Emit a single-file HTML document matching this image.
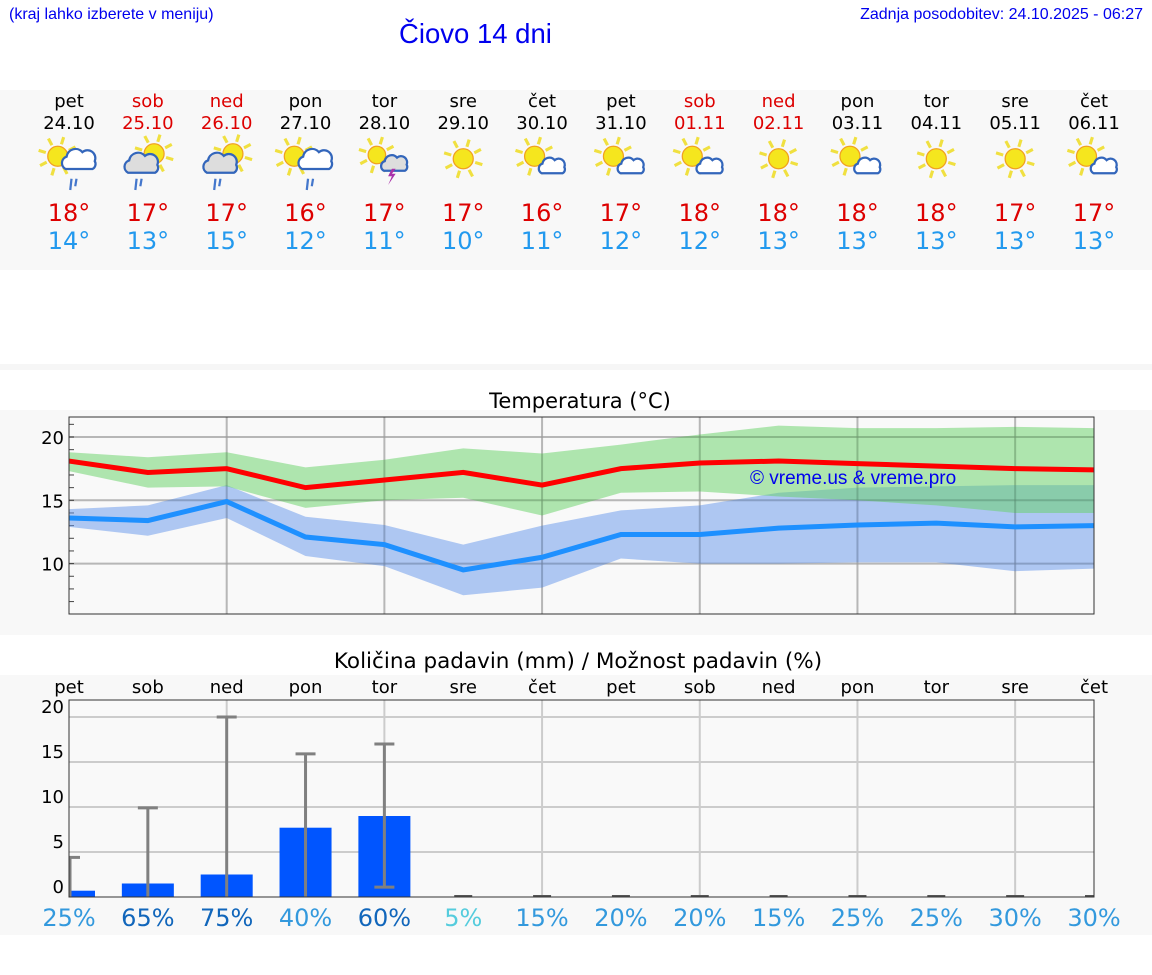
<!DOCTYPE html>
<html><head><meta charset="utf-8">
<style>
body{margin:0;width:1152px;height:975px;background:#fff;position:relative;overflow:hidden;font-family:"DejaVu Sans","Liberation Sans",sans-serif}
.abs{position:absolute}
</style></head>
<body>
<div class="abs" style="left:9px;top:6px;font:16px 'Liberation Sans',sans-serif;color:#0000ee">(kraj lahko izberete v meniju)</div>
<div class="abs" style="left:399px;top:18px;font:27.5px 'Liberation Sans',sans-serif;color:#0000ee">Čiovo 14 dni</div>
<div class="abs" style="right:9px;top:6px;font:16px 'Liberation Sans',sans-serif;color:#0000ee">Zadnja posodobitev: 24.10.2025 - 06:27</div>
<div class="abs" style="left:0;top:90px;width:1152px;height:180px;background:#f8f8f8"></div>
<div class="abs" style="left:0;top:364px;width:1152px;height:6px;background:#f6f6f6"></div>
<div class="abs" style="left:0;top:410px;width:1152px;height:225px;background:#f8f8f8"></div>
<div class="abs" style="left:0;top:675px;width:1152px;height:260px;background:#f8f8f8"></div>
<svg class="abs" style="left:0;top:0" width="1152" height="975" id="svg"></svg>
<script>
const days=["pet","sob","ned","pon","tor","sre","čet","pet","sob","ned","pon","tor","sre","čet"];
const dates=["24.10","25.10","26.10","27.10","28.10","29.10","30.10","31.10","01.11","02.11","03.11","04.11","05.11","06.11"];
const weekend=[0,1,1,0,0,0,0,0,1,1,0,0,0,0];
const icons=["sunrain","cloudrain","cloudrain","sunrain","storm","sun","suncloud","suncloud","suncloud","sun","suncloud","sun","sun","suncloud"];
const tmax=[18,17,17,16,17,17,16,17,18,18,18,18,17,17];
const tmin=[14,13,15,12,11,10,11,12,12,13,13,13,13,13];
const maxLine=[18.1,17.2,17.5,16.0,16.6,17.2,16.2,17.5,17.95,18.1,17.9,17.7,17.5,17.4];
const maxHi=[18.8,18.4,18.8,17.6,18.2,19.1,18.7,19.4,20.2,20.9,20.7,20.7,20.8,20.7];
const maxLo=[17.3,16.0,16.1,14.4,15.0,15.2,13.8,15.6,15.7,15.3,15.0,14.6,14.0,14.0];
const minLine=[13.6,13.4,14.9,12.1,11.5,9.5,10.5,12.3,12.3,12.8,13.05,13.2,12.9,13.0];
const minHi=[14.3,14.6,16.2,13.7,13.05,11.5,13.0,14.2,14.6,15.6,16.0,16.1,16.2,16.2];
const minLo=[12.9,12.2,13.6,10.6,9.8,7.5,8.1,10.4,10.0,10.0,10.1,10.1,9.4,9.6];
const precip=[0.7,1.5,2.5,7.7,9.0,0,0,0,0,0,0,0,0,0];
const precipHi=[4.4,9.9,20,15.9,17,0,0,0,0,0,0,0,0,0];
const precipLo=[0,0,0,0,1.1,0,0,0,0,0,0,0,0,0];
const chance=[25,65,75,40,60,5,15,20,20,15,25,25,30,30];
const tTicks=[10,15,20];
const pTicks=[0,5,10,15,20];

const svg=document.getElementById('svg');
const NS='http://www.w3.org/2000/svg';
function mk(tag,attrs,parent){const e=document.createElementNS(NS,tag);for(const k in attrs)e.setAttribute(k,attrs[k]);(parent||svg).appendChild(e);return e;}
const X0=69,X1=1094,step=(X1-X0)/13;
const xd=i=>X0+i*step;
const yt=v=>437+(20-v)*12.66;
const yp=v=>897-v*9;

for(let i=0;i<14;i++){
  const c=weekend[i]?'#dd0000':'#000';
  let t=mk('text',{x:xd(i),y:107,'text-anchor':'middle','font-size':18,fill:c});t.textContent=days[i];
  
  
  t=mk('text',{x:xd(i),y:129,'text-anchor':'middle','font-size':18,fill:c});t.textContent=dates[i];
  
  
  t=mk('text',{x:xd(i),y:221,'text-anchor':'middle','font-size':24,fill:'#dd0000'});t.textContent=tmax[i]+'°';
  
  
  t=mk('text',{x:xd(i),y:249,'text-anchor':'middle','font-size':24,fill:'#2299ee'});t.textContent=tmin[i]+'°';
  
  
  const g=mk('g',{transform:`translate(${xd(i)},160) scale(1.25)`});
  
  
  drawIcon(g,icons[i]);
}
function sun(g,cx,cy,r){
  for(let a=0;a<8;a++){const an=a*Math.PI/4+0.3;mk('line',{x1:cx+Math.cos(an)*(r+2),y1:cy+Math.sin(an)*(r+2),x2:cx+Math.cos(an)*(r+8),y2:cy+Math.sin(an)*(r+8),stroke:'#f0e040','stroke-width':2.5},g);}
  mk('circle',{cx,cy,r,fill:'#f5e61e',stroke:'#f0a020','stroke-width':1},g);
}
function cloud(g,cx,cy,s,fill){
  mk('path',{d:`M${cx-12*s},${cy+8*s} a${6*s},${6*s} 0 0 1 ${1*s},${-11*s} a${8*s},${8*s} 0 0 1 ${14*s},${-4*s} a${7*s},${7*s} 0 0 1 ${11*s},${8*s} a${5*s},${5*s} 0 0 1 ${-2*s},${7*s} z`,fill,stroke:'#3366bb','stroke-width':1.8},g);
}
function drawIcon(g,k){
  if(k=='sun'){sun(g,0,-1,8);return;}
  if(k=='sunrain'){sun(g,-9,-3,8);cloud(g,8,0,0.9,'#fff');rain(g,2);return;}
  if(k=='cloudrain'){sun(g,5,-5,8);cloud(g,-5,3,0.9,'#ddd');rain(g,-9);return;}
  if(k=='suncloud'){sun(g,-6,-3,8);cloud(g,8,5,0.7,'#fff');return;}
  if(k=='storm'){sun(g,-6,-4,7);cloud(g,8,3,0.7,'#ddd');mk('path',{d:'M6,7 l-3,6 h3 l-3,7 l6,-9 h-3 l3,-4 z',fill:'#aa33aa'},g);}
}
function rain(g,x){mk('line',{x1:x,y1:15,x2:x-1,y2:24,stroke:'#4477cc','stroke-width':1.8},g);mk('line',{x1:x+4,y1:15,x2:x+3,y2:21,stroke:'#4477cc','stroke-width':1.8},g);}

let t=mk('text',{x:580,y:408,'text-anchor':'middle','font-size':21,fill:'#000'});t.textContent='Temperatura (°C)';


mk('rect',{x:X0,y:417,width:X1-X0,height:197,fill:'#f9f9f9'});
for(const v of tTicks){mk('line',{x1:X0,x2:X1,y1:yt(v),y2:yt(v),stroke:'#ccc','stroke-width':2});
  t=mk('text',{x:64,y:yt(v)+7,'text-anchor':'end','font-size':18});t.textContent=v;
  
  }
for(let v=7;v<=21;v++){mk('line',{x1:X0,x2:X0+5,y1:yt(v),y2:yt(v),stroke:'#444'});}
for(let i=2;i<14;i+=2)mk('line',{x1:xd(i),x2:xd(i),y1:417,y2:614,stroke:'#ccc','stroke-width':2});
function band(hi,lo,fill,name){let d='';hi.forEach((v,i)=>d+=(i?'L':'M')+xd(i)+','+yt(v));for(let i=lo.length-1;i>=0;i--)d+='L'+xd(i)+','+yt(lo[i]);
  const p=mk('path',{d:d+'Z',fill});
  
  }
function line(vals,color,name){const p=mk('polyline',{points:vals.map((v,i)=>xd(i)+','+yt(v)).join(' '),fill:'none',stroke:color,'stroke-width':5});
  
  }
band(minHi,minLo,'rgba(100,150,235,0.5)','min-temp-range');
band(maxHi,maxLo,'rgba(100,210,100,0.5)','max-temp-range');
for(const v of tTicks)mk('line',{x1:X0,x2:X1,y1:yt(v),y2:yt(v),stroke:'rgba(0,0,0,0.1)','stroke-width':2});
for(let i=2;i<14;i+=2)mk('line',{x1:xd(i),x2:xd(i),y1:417,y2:614,stroke:'rgba(0,0,0,0.1)','stroke-width':2});
line(maxLine,'#ff0000','max-temp-line');
line(minLine,'#1e90ff','min-temp-line');
t=mk('text',{x:750,y:484,'font-size':19,fill:'#0000ee','font-family':'Liberation Sans'});t.textContent='© vreme.us & vreme.pro';


mk('rect',{x:X0,y:417,width:X1-X0,height:197,fill:'none',stroke:'#333','stroke-width':1});

t=mk('text',{x:578,y:668,'text-anchor':'middle','font-size':21.5});t.textContent='Količina padavin (mm) / Možnost padavin (%)';


mk('rect',{x:X0,y:700,width:X1-X0,height:197,fill:'#f9f9f9'});
for(const v of pTicks){if(v>0)mk('line',{x1:X0,x2:X1,y1:yp(v),y2:yp(v),stroke:'#ccc','stroke-width':2});
  t=mk('text',{x:64,y:yp(v)-4,'text-anchor':'end','font-size':18});t.textContent=v;
  
  }
for(let i=2;i<14;i+=2)mk('line',{x1:xd(i),x2:xd(i),y1:700,y2:897,stroke:'#ccc','stroke-width':2});
for(let i=0;i<14;i++){
  t=mk('text',{x:xd(i),y:693,'text-anchor':'middle','font-size':18});t.textContent=days[i];
  
  
  const bx=Math.max(X0,xd(i)-26),bw=xd(i)+26-bx;
  if(precip[i]>0){const r=mk('rect',{x:bx,y:yp(precip[i]),width:Math.min(bw,X1-bx),height:precip[i]*9,fill:'#0055ff'});
    
    }
  if(precipHi[i]>0){const ex=Math.max(X0+1,xd(i));
    mk('line',{x1:ex,x2:ex,y1:yp(precipHi[i]),y2:yp(precipLo[i]),stroke:'#808080','stroke-width':3});
    mk('line',{x1:Math.max(X0,ex-10),x2:ex+10,y1:yp(precipHi[i]),y2:yp(precipHi[i]),stroke:'#808080','stroke-width':3});
    if(precipLo[i]>0)mk('line',{x1:ex-10,x2:ex+10,y1:yp(precipLo[i]),y2:yp(precipLo[i]),stroke:'#808080','stroke-width':3});
  } else mk('line',{x1:xd(i)-9,x2:Math.min(X1,xd(i)+9),y1:896,y2:896,stroke:'#555','stroke-width':2});
  const col=chance[i]<10?'#55ccdd':(chance[i]>=60?'#1166bb':'#3399dd');
  t=mk('text',{x:xd(i),y:926,'text-anchor':'middle','font-size':24,fill:col});t.textContent=chance[i]+'%';
  
  
}
mk('rect',{x:X0,y:700,width:X1-X0,height:197,fill:'none',stroke:'#333','stroke-width':1});
</script>
</body></html>
